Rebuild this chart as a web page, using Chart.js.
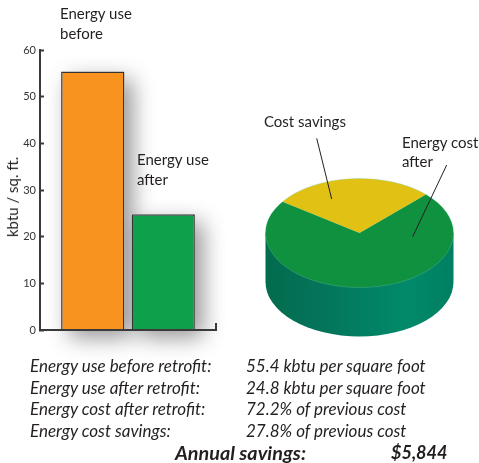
<!DOCTYPE html>
<html>
<head>
<meta charset="utf-8">
<script src="https://cdn.jsdelivr.net/npm/chart.js@4/dist/chart.umd.min.js"></script>
<style>
  html, body { margin: 0; padding: 0; background: #fff; }
  body { width: 479px; height: 463px; position: relative; overflow: hidden; font-family: Lato, sans-serif; color: #231f20; }
  canvas { position: absolute; }
  #barChart { left: 0; top: 0; }
  #pieChart { left: 240px; top: 118px; }
  .t { position: absolute; white-space: nowrap; font-size: 15px; line-height: 19.5px; }
  .s { position: absolute; white-space: nowrap; font-size: 17px; line-height: 21px; font-style: italic; }
  .b { position: absolute; white-space: nowrap; line-height: 22px; font-style: italic; font-weight: 700; }
  #ytitle { position: absolute; left: 12px; top: 197px; white-space: nowrap; font-size: 15px; transform: translate(-50%, -50%) rotate(-90deg); }
</style>
</head>
<body>
<canvas id="barChart" width="240" height="360"></canvas>
<canvas id="pieChart" width="239" height="230"></canvas>

<div id="ytitle">kbtu / sq. ft.</div>
<div class="t" style="left:60px;top:4px">Energy use<br>before</div>
<div class="t" style="left:137px;top:150px">Energy use<br>after</div>
<div class="t" style="left:264px;top:111.5px">Cost savings</div>
<div class="t" style="left:402px;top:132.5px">Energy cost<br>after</div>

<div id="summary"></div>

<script>
const categories = ['Energy use'];
const useBefore = [55.4];
const useAfter = [24.8];
const yTicks = [0, 10, 20, 30, 40, 50, 60];

const pieLabels = ['Cost savings', 'Energy cost after'];
const pieValues = [27.8, 72.2];

const summaryLabels = ['Energy use before retrofit:', 'Energy use after retrofit:', 'Energy cost after retrofit:', 'Energy cost savings:'];
const summaryValues = ['55.4 kbtu per square foot', '24.8 kbtu per square foot', '72.2% of previous cost', '27.8% of previous cost'];

// tabla de abajo
const box = document.getElementById('summary');
summaryLabels.forEach((txt, i) => {
  const top = 355 + i * 21.5;
  box.insertAdjacentHTML('beforeend', `<div class="s" style="left:30px;top:${top}px">${txt}</div><div class="s" style="left:246px;top:${top}px">${summaryValues[i]}</div>`);
});
box.insertAdjacentHTML('beforeend', '<div class="b" style="left:175px;top:441px;font-size:19.8px">Annual savings:</div><div class="b" style="left:391px;top:441px;font-size:18px">$5,844</div>');

// sombra de las barras + marca final del eje x
// (BarElement recorta al rectangulo cuando hay borde, asi que la sombra va aparte)
const barShadow = {
  id: 'barShadow',
  beforeDatasetsDraw(chart) {
    const ctx = chart.ctx;
    ctx.save();
    ctx.shadowColor = 'rgba(0,0,0,.42)';
    ctx.shadowBlur = 22;
    ctx.shadowOffsetX = 8;
    ctx.shadowOffsetY = 8;
    ctx.fillStyle = '#fff';
    chart.data.datasets.forEach((d, i) => {
      chart.getDatasetMeta(i).data.forEach(bar => {
        ctx.fillRect(bar.x - bar.width / 2, bar.y, bar.width, bar.base - bar.y);
      });
    });
    ctx.restore();
  },
  afterDraw(chart) {
    const { ctx, chartArea: a } = chart;
    ctx.save();
    ctx.strokeStyle = '#3a3a3a';
    ctx.lineWidth = 2;
    ctx.beginPath();
    ctx.moveTo(a.right, a.bottom);
    ctx.lineTo(a.right, a.bottom - 7);
    ctx.stroke();
    ctx.restore();
  },
};

new Chart(document.getElementById('barChart'), {
  type: 'bar',
  plugins: [barShadow],
  data: {
    labels: categories,
    datasets: [
      { label: 'Energy use before', data: useBefore, backgroundColor: '#f7931e', clip: false },
      { label: 'Energy use after', data: useAfter, backgroundColor: '#0fa04b', clip: false },
    ],
  },
  options: {
    responsive: false,
    animation: false,
    layout: { padding: { top: 50, right: 24, bottom: 30, left: 0 } },
    datasets: { bar: { barPercentage: 0.9, categoryPercentage: 0.8, borderColor: '#333', borderWidth: 1.5 } },
    plugins: { legend: { display: false }, tooltip: { enabled: false } },
    scales: {
      x: {
        ticks: { display: false },
        grid: { display: false, drawTicks: false },
        border: { color: '#3a3a3a', width: 2, z: 2 },
      },
      y: {
        min: 0, max: 60,
        afterBuildTicks: s => { s.ticks = yTicks.map(v => ({ value: v })); },
        afterFit: s => { s.width = 40; },
        ticks: { color: '#333', font: { family: 'Lato', size: 11 }, padding: 8 },
        grid: { drawOnChartArea: false, tickLength: -4, tickColor: '#3a3a3a', tickWidth: 2, z: 2 },
        border: { color: '#3a3a3a', width: 2, z: 2 },
      },
    },
  },
});

// aplasta la torta y dibuja el costado
const SQUASH = 0.58, DEPTH = 49;
const pie3d = {
  id: 'pie3d',
  beforeDatasetsDraw(chart) {
    const { ctx } = chart;
    const arc = chart.getDatasetMeta(0).data[0];
    const r = arc.outerRadius, ry = r * SQUASH;
    const g = ctx.createLinearGradient(arc.x - r, 0, arc.x + r, 0);
    g.addColorStop(0, '#036b4e');
    g.addColorStop(0.3, '#04745a');
    g.addColorStop(0.75, '#018a6a');
    g.addColorStop(1, '#007f62');
    ctx.save();
    ctx.fillStyle = g;
    ctx.beginPath();
    ctx.moveTo(arc.x - r, arc.y);
    ctx.lineTo(arc.x - r, arc.y + DEPTH);
    ctx.ellipse(arc.x, arc.y + DEPTH, r, ry, 0, Math.PI, 0, true);
    ctx.lineTo(arc.x + r, arc.y);
    ctx.closePath();
    ctx.fill();
    ctx.restore();
    ctx.save();
    ctx.translate(arc.x, arc.y);
    ctx.scale(1, SQUASH);
    ctx.translate(-arc.x, -arc.y);
  },
  afterDatasetsDraw(chart) {
    const { ctx } = chart;
    ctx.restore();
    const arc = chart.getDatasetMeta(0).data[0];
    ctx.save();
    ctx.strokeStyle = 'rgba(110,200,170,.5)';
    ctx.lineWidth = 0.6;
    ctx.beginPath();
    ctx.ellipse(arc.x, arc.y, arc.outerRadius, arc.outerRadius * SQUASH, 0, 0, Math.PI * 2);
    ctx.stroke();
    // lineas guia
    ctx.strokeStyle = '#231f20';
    ctx.lineWidth = 1;
    ctx.beginPath();
    ctx.moveTo(76.7, 20.3); ctx.lineTo(91.7, 81);
    ctx.moveTo(206.7, 47); ctx.lineTo(172.7, 118.7);
    ctx.stroke();
    ctx.restore();
  },
};

new Chart(document.getElementById('pieChart'), {
  type: 'pie',
  plugins: [pie3d],
  data: {
    labels: pieLabels,
    datasets: [{ data: pieValues, backgroundColor: ['#e2c115', '#10913f'], borderWidth: 0, radius: 94 }],
  },
  options: {
    responsive: false,
    animation: false,
    rotation: -55,
    plugins: { legend: { display: false }, tooltip: { enabled: false } },
  },
});
</script>
</body>
</html>
